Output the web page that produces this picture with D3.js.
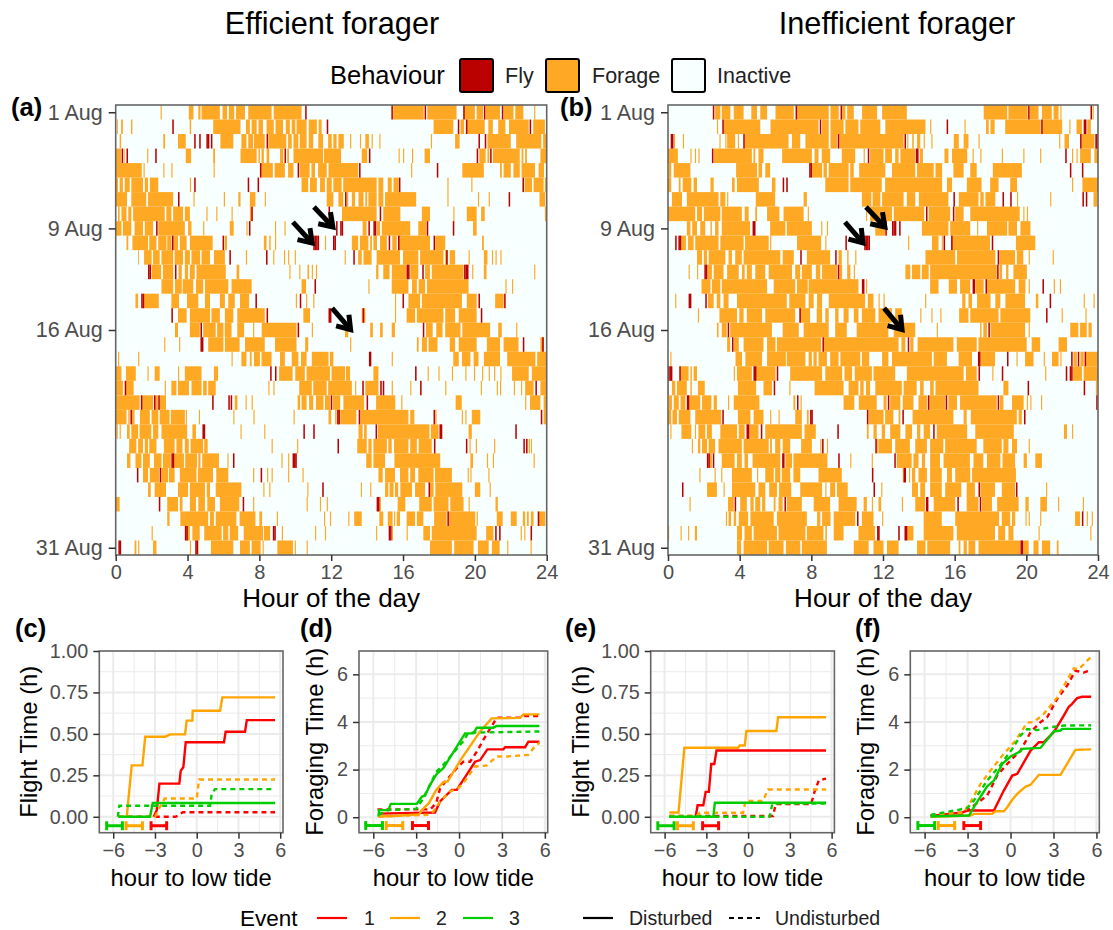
<!DOCTYPE html>
<html>
<head>
<meta charset="utf-8">
<script src="https://cdn.jsdelivr.net/npm/d3@7"></script>
<style>
body{margin:0;background:#fff;}
text{font-family:"Liberation Sans",Arial,sans-serif;}
</style>
</head>
<body>
<svg id="chart" width="1113" height="930"></svg>
<script>
// one string per day, 1 to 31 Aug. "a-b" is a bout in hours, a lone number is one short fix
const efficientForage = [
"2.5 4.07-4.33 4.6-4.72 4.78-5.8 5.95-6.2 6.3-6.6 6.7-7.2 7.38-8.68 8.8-10.35 15.45-17.15 17.35-18.98 19.4-20 20.1-20.45 20.6-21.4 21.6-22.15 22.25-22.7 23.3",
".07-.12 .3-.4 .85-.93 4.12-4.2 5.43-6.95 7.25-7.47 7.57-7.85 7.95-8.2 8.4-8.8 8.9-9.32 9.47-9.7 9.8-10 10.07-10.63 10.75-11.2 11.3-11.47 17.7-18.8 19.2-19.4 19.55-20.55 20.75-21 21.3-21.7 21.9-23 23.25-23.9",
".22-.3 2.65-2.75 3.47-3.9 5.83-6.55 7-7.28 7.38-7.65 7.7-8.3 8.5-9.5 9.6-9.8 9.9-10.17 10.25-10.63 10.75-11 11.28-11.55 11.83-12.03 12.12-12.3 12.4-12.7 13.05 13.6 13.9-14.1 14.25 14.68 17.55 18.9-19.15 20.7-22 22.3-23.7 23.8-24",
"0-.3 .45-.5 1.75 3.9-4.2 5.43-5.53 6.95-7.85 7.95-8.03 8.12-8.25 8.4-8.55 9.15-9.33 9.55-9.65 9.9-11.55 11.6-12.55 13.7-14 15.75 16 16.5 17.2-17.5 20.25-20.6 20.7-20.8 21-22.5 22.6-22.7 22.8-22.9 23.65-24",
"0-1.45 1.55 2.65 3.1 5.45 8.1-8.75 8.85-9.42 9.6-9.9 10.25-10.8 10.9-11.1 11.27-11.75 11.85-13.5 16.45 19.3-20.5 21.4-21.5 21.6-22 22.15-22.5 22.6-23.35 23.55-23.85",
"0-.13 .22-.4 .5-.78 .87-1.52 1.62-1.8 1.9-2.37 4.13 10.35-10.72 10.82-11.2 11.38-11.65 11.75-12.03 12.12-12.58 12.67-14.53 14.63-14.9 15.15-15.37 15.47-15.75 18.47 19.8 22.77-23.18 23.27-23.83 23.9-24",
"0-.63 .87-1.7 1.8-3.2 4.33 6.02 6.83-6.95 7.47-7.78 8.3 11.75-12.12 12.4-12.67 12.87-12.95 13.15-13.33 13.52-13.8 13.9-14 14.07-14.53 14.63-14.9 15-16.73 18.47 20.17 20.77 23.6-23.92",
".13-.22 .32-.6 .7-.87 .97-2.73 2.82-3.1 3.2-3.75 3.85-4.13 5.05 5.6 6.45 7.47-7.57 12.6-14.53 14.9-15.85 17.05-17.5 18.8 19.55-20.1 20.35-20.55 23.9-24",
"0-.32 .4-.87 1.05-1.52 1.62-2.08 2.37-3.85 4.03-4.22 4.87 6.35-6.57 7.28 8.87 9.4 13.75-13.97 14.55-14.72 14.82-16.4 16.85-17.3 19.9-20.1",
".6-.7 .93-1.8 1.87-2.27 2.37-2.83 2.87-3.1 3.2-3.47 3.57-3.95 4.13-5.4 6.07-6.2 8.25-8.4 8.55-8.63 8.87 11.65 13.15-13.5 13.6-14.07 14.17-14.27 14.35-14.55 14.72-15.1 15.4-15.65 15.75-17.5 17.8-18.35 20.4-20.5",
"1.25-1.3 1.58-2 2.08-2.45 2.55-3.2 3.28-3.75 3.85-4.13 4.22-4.7 4.78-5.25 5.47-6.08 7.25 8.77 9.37 9.6 9.97 12.75 13.5-13.7 13.8-14.25 14.53-15.83 16-16.85 16.95-18.25 18.35-18.5 18.6-18.9 19.65 20.5-20.7 20.95 21.15 21.42",
"2-2.53 2.63-3.2 3.5-3.68 3.85-4.03 4.13-4.4 4.5-6.13 6.73-6.88 9.67 10.22 10.68-10.77 10.92 11.15 14.5-14.63 14.9-15.25 15.38-16.2 16.4-16.85 17.23-17.5 17.6-19.37 19.85 20.5-20.65 23.3",
"2.55-3.2 3.3-3.68 3.73-4.32 4.47-4.87 4.97-6.27 6.45-7.57 10.35-10.6 14.07 15.37-16.3 16.5-16.77 16.87-17.23 17.33-19.65 21.7 22.07",
"1.1-1.25 1.53-2.4 3.1-3.53 3.97-4.6 4.97-5.25 5.8-6.08 6.27-6.63 6.92-7.43 10.03 10.6 11 15.55 16.3-16.95 17.05-19.28 19.55-20.1 21.13-21.6",
"3.47-3.95 4.13-5.25 5.33-5.8 6.08-6.55 6.77-8.3 10.45-10.82 13.7-13.9 15.55 16.2-16.67 16.77-18.25 18.35-18.9 19.1-20.1",
"3.3-3.47 4.13-4.68 4.87-5.57 5.65-6 6.07-6.45 6.77-7.15 7.65 8.13-10.07 10.92 12.77-12.95 14.17-14.32 14.72-14.87 15.37-15.55 17.28-17.65 17.85-18.2 18.35-19.2 19.3-20.85 21.3-21.5 22.3",
"2.7 3.53 5.15-6 6.08-6.9 7.2-8.3 8.87-10.07 10.55-10.72 13.05 16.77-16.87 17.05-17.33 17.42-17.92 18.6-18.9 19.1-20.1 20.67-21.4 21.6-22.43 23.65-23.85",
".13 1.25 6.45 7-7.28 7.47-7.57 7.7-8.03 8.12-8.68 9.15-9.42 9.8-10.17 10.32-10.63 10.92-11.85 11.93-12.12 15.37 18.8-19.1 19.28-19.75 19.93-20.2 20.5-21.4 21.8-23.37 23.47-24",
"0-.32 .57-1.12 1.77 2.17-2.45 3.47 3.85-4.78 5.47-5.7 9.1-9.85 10-10.53 10.63-11.93 12.02-12.77 12.82-13.05 14.35-14.63 17.37 17.97 18.72 19.47 19.95 20.4 20.77 21.07 21.42 22.07-23 23.17-24",
"0-.4 .55-1 2.73 3.1-3.38 3.47-4.08 4.22-4.78 4.87-5.07 5.15-5.57 8.5 8.78 10.22-10.92 11-11.75 11.83-13.15 13.33 13.9-14.63 15.37 16.4 18.35 20.33 21.22 21.4 22.17 22.57 22.8-23.27 23.65-24",
"0-1.33 1.47-2.08 2.2-2.35 2.45-2.8 6.63-6.78 7.23 7.57 10.13-10.27 10.35-10.63 10.77-11 11.15-11.57 11.65-11.93 12.08-12.5 12.68-13.83 14.5-15.57 15.9 18.93-19.27 22.8 23.07-23.65 23.83-24",
"0-.6 .7-.78 .9-1.05 1.35-1.9 2-2.37 2.45-3 3.07-3.85 3.9 4.63 6.55 7.67 9.9 11.85-12 12.22-12.3 12.5-13.4 13.62-16.3 16.4-16.63 17.8 19.27 19.47 19.83-20.3 23.83-24",
".05 .22 .63-.78 .87-1.25 1.33-1.98 2.08-2.37 2.55-3.98 4.27-4.47 6.95 8.27 13.52-13.75 13.83-13.98 14.6-17.47 17.55-17.98 19.65-19.83",
".75-1.15 1.25-1.52 1.62-1.8 1.87-2.27 2.68-3.28 3.38-3.72 3.85-4.07 4.17-4.87 4.93-5.12 8.68 10.1 13.45-13.98 14.07-14.25 14.35-15.1 15.18-15.37 15.5-16.3 16.4-16.77 16.87-17.6 19.7 20.05 21.07 23 23.12",
".63-.82 1.1-1.43 1.52-1.9 2.13-2.55 2.63-3.07 3.22-3.8 3.87-4.53 4.6-4.72 4.82-5.75 6.22 9.23 9.6 13.95-14.25 14.35-15 15.52-18.07 19.75-19.9 20.67 21 23.27",
"1.52-1.8 1.9-2.42 2.55-2.92 2.97-3.28 3.57-4.5 4.58-5.42 5.6-6.27 7.65 8.43 8.68 9.6 10.4 14.63-14.87 15-15.55 15.83-16.3 16.4-16.67 16.85-17.7 17.78-18.72 19.6 19.75 20.75",
"1.8-1.95 2.17-2.8 3.47-4.03 4.13-4.97 5.07-5.25 5.57-7 8.22 8.55 10.67 13.65 14.17 15-15.18 15.25-15.47 15.55-15.73 15.85-16.5 16.67-17.23 17.5-17.7 17.8-19.3 20-20.3 20.82",
"0-.22 2.87-3.47 3.57-3.72 4.13-4.47 4.6-4.97 5.1-5.53 5.8-6.88 7.65 10.63 11.37 11.75 14.63-14.77 15.7-16.13 16.9-17.6 17.7-18.53 18.63-19.37 19.65 21.15-21.28",
"2.87-3 3.6-5.15 5.25-5.47 5.57-6.72 6.9-7.78 8-8.15 8.97 11.6 11.93 12.95 13.28-13.7 14.68-14.9 15.15-15.42 15.5 15.65-15.83 16.2-16.67 16.77-17.13 17.73-18.43 18.53-20.02 20.1 21.22-21.55 22-22.33 22.67-22.8 22.9-23 23.12-23.27 23.55-23.92",
"2 3.95-4.13 4.27-4.68 4.93-5.9 5.98-6.27 6.35-6.82 7.13-8.2 8.25-8.6 9.25 11.1 11.65 14.5 15.38 16.2 17.13-17.5 17.6-20.1 20.63-21.03 22.55 22.75",
"1.05-1.15 1.25 2.08-2.27 4.13 4.55 5.3-6.55 6.92-7.47 7.57-8.07 8.18 9-9.87 9.97 10.63 17.5-18.72 18.85-19.93 20.17-20.77 20.95-21.38 21.8 23.1"
];
const efficientFly = [
"10.55 15.35 17.2 19.35 20.5 21.5",
"3.15 11.75 19.05 19.5 23.05",
"4.37 4.65 5.05 5.13 5.3 8.4 20.2 20.55",
".33 .6 2.2 9.4 14.1 20.1 20.85",
"8.03 10.13 13.55 17.88",
"4.37 7.35 7.9 15.77 22.65",
"3.47 12.77 21.88",
"7.55 11.85 14.7",
"2.25 7.42 12.27 12.5 12.58 14.07 14.35 14.43 17.32 18.77",
"3.13 5.95 11 11.08 11.16 11.24 12.1 12.18 15.2 15.72 17.7",
"6.33 8.37 13.23 18.4",
"1.8 1.88 3.3 16.2 16.28 17.07 19.4 19.48 19.56",
"11.07",
"1.42 1.5 7.78 10.25 15.97 20.2 21.63",
"3.1 8.4 11.85 11.93 13.75 20.33",
"4.72 10.13 17.1",
"4.72 4.8 22.67 23.75",
"14.1 14.15",
"8.6 8.87 16.67",
".5 13.73 14.73 14.87 16.95 23.37",
"1.4 2.13 2.37 5.37 6.27 6.4 11.97 13.97",
".82 12.33 12.4 13.53 17.7 23.67",
"4.83 4.9 10.45 11 14.47 18.03 18.1 22.25",
"12.35 17.72 19.5 22.7 22.85",
"3.1 3.17 6.53 9.85 9.93 10",
"1.18 2.45 8.07",
"11.5 17.42",
"2.4 7.07 14.53 14.6",
"18.47 23.5",
"3.85 3.93 8.75 8.83 15.2 15.28 21.13 21.35 23.1",
".15 .22 4.43 4.5"
];
const inefficientForage = [
"2.63-2.92 3-3.48 3.67-4.22 4.65-4.97 5.15-5.53 6-7.02 7.2-8.97 9.07-9.53 9.72-9.9 10-10.37 10.83-11.67 11.95-13.33 17.62-18.93 19-20.07 20.2-20.68 20.87-21.42 21.52-21.8 21.9 23.7",
"2.73 3.1-5.15 5.72-8.4 8.6-8.97 9.07-9.8 9.9-10.63 10.73-11.85 12.13-14.37 14.63 16.55 17.75-17.9 18-18.23 18.82-20.8 20.9-22 22.4 22.8-23.1 23.4-23.6",
".33 .83 2.87 3.2 3.3-3.75 3.9 4.28-6.73 6.92-7.38 7.67-8.97 9.07-9.43 9.55-13.15 13.35 13.63-13.72 13.9-14.08 14.27 14.7 15.95-16.23 16.5-16.77 17.33 21.83 22.13-22.38 23.08-23.8",
"0-.55 1.25 1.5 1.7 2.55-4.68 4.77-4.87 5.05-5.33 6.37-8.03 8.18-8.4 8.58-9.05 9.7-10.45 10.92 11.28-12.03 12.12-12.5 12.68-12.87 12.97-13.8 14.05-14.23 15.43-15.65 15.85-16.7 17 17.43 18.63 19.83 20.77 22.55 22.8 23-23.6 23.8-24",
".05-.18 .32-1.25 3.8-4.97 5.05-5.25 5.43-5.7 8-8.6 8.68-8.87 8.97-10.08 10.17-10.37 10.67-12.13 12.5-13.8 13.9-14.83 14.93-15.3 15.93-16.5 16.87-17.23 18.13-19.75",
"0-.18 .6-.7 .82-1.3 1.43-1.62 2.37-2.55 3.57-3.72 3.85-5.07 5.8-6 8.78-10.08 10.17-11.93 12.12-15.3 15.57-15.85 16.68-17.5 17.98-18.45 19.1-19.48 22.55 23.13-24",
".22-.78 1.05-2.82 2.92-3.2 3.3 4.9-5.98 7.57-7.75 10.82-11.35 11.42-11.85 11.95-13.15 13.33-13.8 14-15.65 16.23-17.33 17.43-17.62 17.72-18.27 19.48 21.33 23.75-23.95",
"0-1.52 1.62-1.9 2-2.92 3-4.12 4.28-4.5 4.87-4.97 5.53-6.22 6.45-7.57 7.8 11.05 11.28-12.5 12.6-14.3 14.55-15.75 16.03-16.5 16.87-19.63 19.83 20.03",
"1.05-1.25 1.35-1.62 1.8-2.08 2.37-2.45 2.63-2.82 3-4.58 5.7-6.55 6.63-8.03 8.55 8.87 11.57-12.12 14.17-15.65 15.75-16.87 17.25 17.8-18.93 19-19.48 19.67-20.23",
".72-1 1.12-1.43 1.52-2.82 2.92-4.22 4.3-5.62 5.7 7.2-8.55 8.78 13.4 14.73-15.1 15.28 15.85-17.97 19.42-20.5",
"1.62-1.9 2-2.18 2.27-3.2 3.38-3.57 3.75-4.12 4.22-6.27 6.4-7.02 7.75-9.05 9.52-9.7 10-10.08 10.45 14.37-16.03 16.13-18.27 18.5-19.37 19.47-19.83 20.13 21.47",
"1.15 1.62 2.12-2.45 2.55-3.1 3.3-3.95 4.13-4.28 4.4-4.68 4.87-5.43 5.62-6.92 7.1-7.38 7.47-8.03 8.25-8.5 8.6-9.43 9.55-9.72 10-10.18 10.37 13.25-13.52 13.62-14.08 14.17-14.55 14.63-18.35 18.5-18.65 18.87-19 19.28-20.03",
"1.87-2.37 2.45-2.92 3-5.53 5.9-7.1 7.2-7.8 7.85-10.63 11.05 14.63-15.1 15.67-16.13 16.3-16.87 17.15-17.62 17.8-19.38 19.57-19.95 20.13 21.53 21.87",
".4 2.23-2.55 2.72-2.92 3.1-3.38 3.85-6.63 6.77-7.67 7.85-8.13 8.32-8.6 8.97-11 11.15-11.47 11.75 12.03 14.35 16.42-16.6 16.77-16.97 17.25-18 18.27-18.55 18.83-19.93 20.53-20.67 23.2 23.75",
"1.67 2.87-3.85 3.98-4.22 4.4-5.25 5.43-7.1 7.38-7.93 8.3-8.6 8.78-8.97 9.33-9.52 9.8-10.08 10.37-10.63 10.82-11.57 11.75-12.5 12.68-13.05 14.08 14.7 15.2 16.25-16.77 16.87-18.45 18.55-20.22 21.97 23.3",
"2.73-2.82 3-3.28 3.47-5.8 6.4-7.3 7.57-8.97 9.33-9.98 10.53-12.3 12.6-13.8 15 17.42-17.5 17.6-17.8 18-19.93 20.13 22.45-22.9 23-23.37 23.47-23.65",
"3.3-3.47 3.67-3.95 4.22-5.33 5.53-6 6.08-8.55 8.7-12.87 13.03-13.25 13.52-13.7 13.93-15.93 16.12-17.23 17.33-20.02 20.3-20.77 21.8-22.27",
".13 3.77-4.13 4.32-5.25 5.53-6.58 6.63-7.67 7.85-8.03 8.12-8.3 8.4-8.87 9.05-9.52 9.62-10.73 10.82-11.23 11.95-12.3 12.5-14.73 14.83-15.57 16.22-16.97 17.42-18.25 19.45 19.93-20.4 20.97 21.43-21.8 21.9 22.63-22.82 23.02-23.2 23.32-24",
".7-1.15 1.25-1.33 1.43-1.62 3.67 3.85-4.68 4.87-6 6.82-8.6 8.78-9.72 9.85-10.27 10.42-11.38 11.47-12.68 13.33-16.5 16.63-17.23 18.1 21.05 22.6-23.1 23.2-24",
"0-.05 .22-.4 .5-1.05 1.25-1.33 1.67-2.05 3.9-4.92 5.33-5.8 6.77 8.18-9.8 10.08-10.63 10.73-10.92 11.05-11.28 11.57-13.05 13.15-13.88 14.07-14.27 14.63-14.83 14.93-17.33 18.72-19 23.88",
".05-.22 .32-.6 .7-.97 1.15-1.8 1.9-2.42 2.55-2.73 3.35 3.67-5.1 7-7.1 7.4 9.8-10.4 10.65-11.65 12.03-12.2 12.4-12.97 13.1-13.7 13.98-14.45 14.58-15.48 15.65-16.13 16.3-18.35 18.53-18.72 19.2-19.85 20.03 20.22 20.82",
"0-.18 .25-.5 .6-1.25 1.52-2.97 3.9-4.6 4.78-5.33 5.7 6.17 7.1-7.47 7.75-7.85 11.2-12.03 12.12-12.58 12.87-12.97 13.65-15.93 16.5-16.67 16.9-19.47 19.57-19.75",
".13 .75-1.3 1.5 1.7-2.08 2.17-2.45 2.92-3.85 3.95-4.28 4.53-5.05 5.43-7.47 7.62-8.25 11.1-11.2 11.47-11.65 11.93-12.12 12.4-12.97 13.25-13.62 13.9-14.08 14.27-14.63 15-16.7 17.15-19.3 22.1-22.27 22.55",
"1.33 1.67-1.8 1.9-2.18 2.27-2.63 2.82-4.12 4.22-5.62 5.7-5.8 5.98-6.27 6.4-6.82 7.43-8.03 8.5 8.87 11.67 11.75-12.5 12.68-13.5 13.8-14.45 14.63-15.37 15.47-17.23 17.6-18.63 18.72-19 19.2-19.48 20.13",
"2.3-2.45 3-3.72 3.85-4.12 4.27-4.47 4.72-6.27 6.55-6.92 7-8.9 10.17 11.37 12.77-13.6 13.7-13.98 14.17-14.35 14.63-15.18 15.38-16.85 17.05-17.6 17.8-18.55 18.67-19.37 19.85-20.03 20.5-20.87",
"1.75 2.6 2.97 3.57-4.68 4.97 5.43-5.9 5.98-6.27 6.35-6.82 7-7.38 8.4-9.7 13.1 13.45 13.62-13.8 13.98-14.45 14.63-15.28 15.57-15.85 16.03-16.87 16.97-19.42",
"2.18-2.73 3.1 3.57-4.87 5.05-5.43 5.65-6.08 6.2-6.88 7.38-8.6 8.78 9.05-9.33 9.43-10.03 11.9 13.62-13.95 14.08-14.35 14.63-15.28 15.47-16.37 16.67-17.13 17.43-18.25 18.63-19.37 21.1",
"1.2 3.35-3.67 4.03-4.4 4.6-4.78 4.87-5.15 5.25-5.43 5.9-6 6.17-6.4 6.63-7.47 8.13-9.05 9.52-10.53 10.92-11.1 11.38 11.75-11.9 13.05 13.8-14.35 14.83-16.03 16.67-17.33 17.52-18.08 18.37-19.57 19.95-20.13 20.78-21.15 21.77 23.15",
"3.23 3.38-3.52 3.67-3.8 3.95-4.47 4.6-5.9 6.08-7.75 8.32-8.5 8.6-9.07 9.25-10.45 10.82-11.47 11.95 14.27-15.28 16.03-18.48 18.63-19.1 19.2-19.38 19.95 20.13 20.77 22.72-23 23.37 23.65",
"0 .7 1.12 1.5-1.62 3.85-4.13 4.27-4.68 4.78-6.08 6.17-7.67 7.75-8.68 8.78-8.87 9.25-9.8 10.63-11.55 13.33-13.7 14.27-15.93 16.12-18.25 18.43-18.82 19-19.28 20.68 23.57",
"3.85-4.08 4.22-5.53 5.62-6.45 6.58-7.38 7.47-8.87 10.37-11.2 11.47-12.03 12.22-12.87 13.9-14.37 14.47-15.75 16.22-16.32 16.5-16.68 16.77-17.15 17.33-19.65 19.77-20.13 20.4-20.68 20.87-21.33 21.7-21.8"
];
const inefficientFly = [
"2.5 7.12 9.63 20.1 23.58",
"3.03 8.47 15.55 20.83 23.2 23.27",
".15 .22 4.2 9.47 13.2 23 23.85 23.9",
"2.45 11.15 13.83 13.9 22.17",
"7.88 7.95 22.43 23.1",
"6.4 6.6",
"15.93 18.67 19.1 23.13 23.32",
"14.4 15.9",
"4.72 4.8 12.13 12.5 12.58 12.66 12.9",
".4 .58 .65 9.9 10.95 11.03 11.11 11.19 15.38 15.8 18.07",
"7.38 9.33 18.4",
"2.03 2.1 9.47 18.37",
"10.82 10.88 17 17.05 17.72 20.9",
"1.15 1.22 2.08 21.3",
"7.33 21.1",
"3.33 17.88",
"3.57 8.62 13.38",
"17.3 17.35 18.92 22.5 22.87 23.25",
"0 .08 .16 .63 4.77 4.85 6.07 17.33 18.63 22.2 22.42 22.5",
"5.9 20.07 23.2",
"1.05 1.1 7.2 12.27 14.5 15.5 18.4 23.9",
"3.03 7.93 8 11.1 13.08 19.87",
"4.38 4.45 5.18 9.45 14.8",
"8.6 11.57",
"2.17 2.25 2.5 6.37 6.42 9.5 12.63",
"11.38 13.15 13.2",
".78 11.47 17.33 19.42",
"3.72 6.5 14.4 14.45 16.15 17.4",
"10.55 23.1",
"11.67 11.73 12.85 13.2 13.27",
"19.67 19.73"
];
const dayTicks = [1, 9, 16, 31];
const dayLabels = ["1 Aug", "9 Aug", "16 Aug", "31 Aug"];
const hourTicks = [0, 4, 8, 12, 16, 20, 24];
// [hour from, day from, hour to, day to]
const arrowsA = [[9.87, 8.57, 11.05, 10.16], [11.04, 7.53, 12.21, 9.05], [12.05, 14.5, 13.19, 16.13]];
const arrowsB = [[9.88, 8.57, 10.99, 10.16], [11.05, 7.53, 12.22, 9.05], [12.06, 14.5, 13.17, 16.13]];

const behaviours = ["Fly", "Forage", "Inactive"];
const behaviourColours = ["#BB0000", "#FFA824", "#F7FFFF"];
const eventColours = ["#FF0000", "#FFA500", "#00CD00"];

// cumulative curves: [hour to low tide, hours], order red, orange, green
const flightEffSolid = [
  [[-3.1,0],[-2.87,.04],[-2.68,.2],[-1.25,.2],[-1.15,.277],[-.96,.3],[-.79,.45],[1.96,.45],[2.08,.513],[3.47,.513],[3.6,.583],[5.63,.583]],
  [[-5.03,0],[-4.67,.31],[-3.9,.31],[-3.7,.483],[-2.27,.483],[-1.9,.497],[-.84,.497],[-.72,.58],[-.31,.58],[-.29,.64],[1.68,.64],[1.84,.72],[5.63,.72]],
  [[-5.63,0],[-3.35,0],[-3.16,.083],[5.63,.083]]
];
const flightEffDash = [
  [[-5.6,0],[-1.5,0],[-1,.027],[5.63,.027]],
  [[-5.6,0],[-3,0],[-2.7,.05],[-2.3,.11],[0,.11],[.17,.225],[5.63,.225]],
  [[-5.67,0],[-5.56,.067],[.96,.067],[1.08,.14],[1.32,.167],[5.63,.167]]
];
const forageEffSolid = [
  [[-5.64,.15],[-1.68,.2],[-1.33,.66],[-.98,.87],[-.51,1.15],[-.16,1.15],[1.12,2.33],[1.47,2.4],[1.98,2.85],[3.1,2.85],[3.22,2.94],[4.62,2.94],[4.85,3.17],[5.62,3.17]],
  [[-5.64,.03],[-4.6,.05],[-2.8,.12],[-2.6,.3],[-2.1,.6],[-1.6,1.15],[-1.1,1.47],[-.8,1.5],[.1,2.4],[1.47,3.6],[2.28,4.15],[4.27,4.17],[4.5,4.32],[5.62,4.32]],
  [[-5.64,.03],[-5.6,.3],[-4.94,.3],[-4.78,.56],[-2.96,.56],[-2.6,.87],[-2.38,.9],[-2.03,1.36],[-1.56,1.82],[-1.1,2.06],[.42,3.52],[1,3.52],[1.24,3.76],[2.4,3.76],[2.63,3.83],[5.62,3.83]]
];
const forageEffDash = [
  [[-5.71,.33],[-2,.33],[-1.6,.6],[-1.33,1.2],[-.86,1.57],[-.16,2.06],[.3,2.33],[.77,2.33],[1.24,2.75],[1.7,3.25],[2.05,3.6],[2.4,3.94],[2.63,4.18],[4.27,4.18],[4.62,4.25],[5.62,4.25]],
  [[-5.64,.03],[-2.2,.1],[-1.8,.24],[-1.33,.66],[-.63,1.08],[-.05,1.22],[.3,1.43],[1.12,2.13],[1.93,2.17],[2.63,2.55],[3.33,2.55],[4.85,2.62],[5.2,2.9],[5.62,3.13]],
  [[-5.64,.1],[-5,.3],[-3,.35],[-2.6,.7],[-2,1.4],[-1.6,1.9],[-1.1,2.2],[.3,3.2],[.65,3.55],[5.62,3.6]]
];
const flightIneffSolid = [
  [[-3.77,0],[-3.63,.07],[-3.22,.07],[-3.05,.15],[-2.82,.15],[-2.65,.318],[-2.43,.318],[-2.27,.4],[5.6,.4]],
  [[-5.66,.026],[-5,.026],[-4.58,.416],[-.72,.416],[-.6,.43],[-.24,.43],[-.12,.517],[2.03,.517],[2.15,.6],[5.6,.6]],
  [[-5.66,0],[-2.5,0],[-2.39,.085],[5.6,.085]]
];
const flightIneffDash = [
  [[-5.66,.005],[1.8,.005],[1.98,.077],[4.53,.077],[4.77,.15],[5.08,.22],[5.6,.23]],
  [[-5.66,.005],[-3.7,.005],[-3.46,.024],[-.36,.024],[-.19,.095],[1.07,.095],[1.43,.165],[5.6,.165]],
  [[-5.66,0],[1.55,0],[1.74,.08],[5.6,.08]]
];
const forageIneffSolid = [
  [[-5.58,.05],[-3.37,.2],[-3.02,.28],[-1.16,.28],[-.47,1.12],[.12,1.75],[.47,1.82],[1.4,2.8],[1.98,3.15],[2.33,3.15],[3.02,3.57],[3.72,4.27],[4.07,4.64],[4.3,4.76],[4.65,5],[5,5.06],[5.63,5.06]],
  [[-5.58,.02],[-2.8,.07],[-2.56,.14],[-1.28,.14],[-1.05,.25],[-.47,.25],[-.23,.42],[.12,.73],[.47,.98],[1.05,1.29],[1.4,1.36],[1.98,1.78],[3.49,1.78],[4.53,2.83],[5.63,2.85]],
  [[-5.58,.03],[-5.12,.04],[-2.9,.07],[-2.56,.42],[-1.63,1.3],[-1.16,1.54],[-.58,2.24],[0,2.55],[.7,2.77],[.8,2.87],[2.09,2.91],[3.02,3.6],[3.49,3.64],[3.6,3.71],[5.63,3.71]]
];
const forageIneffDash = [
  [[-5.58,.05],[-3.37,.14],[-2.56,.49],[-1.63,.91],[-.93,1.75],[-.23,2.24],[.7,2.8],[1.4,3.57],[2.09,3.99],[2.56,4.2],[3.26,4.97],[3.95,5.52],[4.53,6.15],[5.12,6.08],[5.63,6.18]],
  [[-5.58,.08],[-3.26,.2],[-2.8,.63],[-2.09,1.4],[-1.4,1.96],[-.47,2.66],[.35,3.22],[1.16,3.97],[1.63,4],[2.33,4.34],[3.26,5.03],[4.42,6.25],[4.77,6.22],[5.63,6.74]],
  [[-5.58,.1],[-3.72,.3],[-3.02,.39],[-2.56,.7],[-1.63,1.54],[-.7,2.2],[.12,2.87],[.7,3.43],[1.16,3.7],[1.86,3.66],[2.79,3.78],[3.72,3.85],[5.63,3.86]]
];
// tide window of each event [from, to], order red, orange, green
const windowsC = [[-3.28,-2.16],[-5.08,-3.9],[-6.47,-5.34]];
const windowsD = [[-3.26,-2.14],[-5.1,-3.94],[-6.53,-5.36]];
const windowsE = [[-3.27,-2.12],[-5.08,-3.94],[-6.49,-5.32]];
const windowsF = [[-3.26,-2.09],[-5.05,-3.9],[-6.47,-5.3]];
const tideTicks = [-6, -3, 0, 3, 6];
const flightTicks = [0, .25, .5, .75, 1];
const forageTicks = [0, 2, 4, 6];

const svg = d3.select("#chart");
const FIX = 0.085;

function parseRow(s){
  return s.split(" ").filter(t=>t).map(t=>{
    if(t.includes("-")){
      const p=t.split("-").map(Number);
      return p;
    }
    return [+t, +t+0.065];
  });
}

function styleAxis(ax, size){
  ax.select(".domain").remove();
  ax.selectAll(".tick line").attr("stroke","#333").attr("stroke-width",1.5);
  ax.selectAll(".tick text").attr("fill","#4D4D4D").attr("font-size",size);
}

function heatPanel(x0,x1,forage,fly,arrows,tag,tagX){
  const top=105, bottom=555;
  const x=d3.scaleLinear().domain([0,24]).range([x0,x1]);
  const y=d3.scaleLinear().domain([.5,31.5]).range([top,bottom]);
  const g=svg.append("g");
  g.append("rect").attr("x",x0).attr("y",top).attr("width",x1-x0).attr("height",bottom-top).attr("fill",behaviourColours[2]);

  forage.forEach((row,i)=>{
    g.append("g").selectAll("rect").data(parseRow(row)).join("rect")
      .attr("x",d=>x(d[0])).attr("width",d=>x(d[1])-x(d[0]))
      .attr("y",y(i+.5)).attr("height",y(i+1.5)-y(i+.5))
      .attr("fill",behaviourColours[1]);
  });
  fly.forEach((row,i)=>{
    g.append("g").selectAll("rect").data(row.split(" ").map(Number)).join("rect")
      .attr("x",d=>x(d)).attr("width",x(FIX)-x(0))
      .attr("y",y(i+.5)).attr("height",y(i+1.5)-y(i+.5))
      .attr("fill",behaviourColours[0]);
  });

  g.append("rect").attr("x",x0).attr("y",top).attr("width",x1-x0).attr("height",bottom-top)
    .attr("fill","none").attr("stroke","#666").attr("stroke-width",1.6);

  const ay=g.append("g").attr("transform",`translate(${x0},0)`)
    .call(d3.axisLeft(y).tickValues(dayTicks).tickFormat((d,i)=>dayLabels[i]).tickSize(7).tickPadding(6));
  styleAxis(ay,21.5);
  const ax=g.append("g").attr("transform",`translate(0,${bottom})`)
    .call(d3.axisBottom(x).tickValues(hourTicks).tickSize(6).tickPadding(4));
  styleAxis(ax,20);

  arrows.forEach(a=>{
    const xa=x(a[0]),ya=y(a[1]),xb=x(a[2]),yb=y(a[3]);
    const ang=Math.atan2(yb-ya,xb-xa);
    const head=15;
    // pull the stem in so the mitre of the head lands on the tip
    const tx=xb-3*Math.cos(ang),ty=yb-3*Math.sin(ang);
    g.append("line").attr("x1",xa).attr("y1",ya).attr("x2",tx).attr("y2",ty)
      .attr("stroke","#000").attr("stroke-width",5);
    g.append("path")
      .attr("d",`M${tx-head*Math.cos(ang-.6)},${ty-head*Math.sin(ang-.6)}L${tx},${ty}L${tx-head*Math.cos(ang+.6)},${ty-head*Math.sin(ang+.6)}`)
      .attr("fill","none").attr("stroke","#000").attr("stroke-width",5).attr("stroke-linejoin","miter");
  });

  g.append("text").attr("x",(x0+x1)/2).attr("y",607).attr("text-anchor","middle")
    .attr("font-size",26).text("Hour of the day");
  g.append("text").attr("x",tagX).attr("y",116).attr("font-size",25.5).attr("font-weight","bold").text(tag);
}

function linePanel(x0,x1,yMin,yMax,yTicks,yFmt,ylab,solid,dash,windows,winY,tag,tagX){
  const top=651, bottom=832.7;
  const x=d3.scaleLinear().domain([-7,6.2]).range([x0,x1]);
  const y=d3.scaleLinear().domain([yMin,yMax]).range([bottom,top]);
  const g=svg.append("g");
  const clip=`clip${tag[1]}`;
  g.append("clipPath").attr("id",clip).append("rect").attr("x",x0).attr("y",top).attr("width",x1-x0).attr("height",bottom-top);

  const minorX=[-4.5,-1.5,1.5,4.5];
  g.selectAll(".mx").data(minorX).join("line").attr("x1",x).attr("x2",x).attr("y1",top).attr("y2",bottom)
    .attr("stroke","#EBEBEB").attr("stroke-width",1);
  const minorY=yTicks.slice(1).map((d,i)=>(d+yTicks[i])/2);
  g.selectAll(".my").data(minorY).join("line").attr("y1",y).attr("y2",y).attr("x1",x0).attr("x2",x1)
    .attr("stroke","#EBEBEB").attr("stroke-width",1);
  g.selectAll(".gx").data(tideTicks).join("line").attr("x1",x).attr("x2",x).attr("y1",top).attr("y2",bottom)
    .attr("stroke","#EBEBEB").attr("stroke-width",2);
  g.selectAll(".gy").data(yTicks).join("line").attr("y1",y).attr("y2",y).attr("x1",x0).attr("x2",x1)
    .attr("stroke","#EBEBEB").attr("stroke-width",2);

  const line=d3.line().x(d=>x(d[0])).y(d=>y(d[1]));
  const lines=g.append("g").attr("clip-path",`url(#${clip})`).attr("fill","none").attr("stroke-width",2.4);
  [0,1,2].forEach(i=>{
    lines.append("path").attr("d",line(dash[i])).attr("stroke",eventColours[i]).attr("stroke-dasharray","5,4");
    lines.append("path").attr("d",line(solid[i])).attr("stroke",eventColours[i]);
  });

  windows.forEach((w,i)=>{
    const c=eventColours[i], yy=y(winY);
    const bar=g.append("g").attr("stroke",c).attr("stroke-width",3);
    bar.append("line").attr("x1",x(w[0])).attr("x2",x(w[1])).attr("y1",yy).attr("y2",yy);
    bar.append("line").attr("x1",x(w[0])).attr("x2",x(w[0])).attr("y1",yy-4.5).attr("y2",yy+4.5);
    bar.append("line").attr("x1",x(w[1])).attr("x2",x(w[1])).attr("y1",yy-4.5).attr("y2",yy+4.5);
  });

  g.append("rect").attr("x",x0).attr("y",top).attr("width",x1-x0).attr("height",bottom-top)
    .attr("fill","none").attr("stroke","#666").attr("stroke-width",1.6);

  const ay=g.append("g").attr("transform",`translate(${x0},0)`)
    .call(d3.axisLeft(y).tickValues(yTicks).tickFormat(yFmt).tickSize(6).tickPadding(5));
  styleAxis(ay,19.8);
  const ax=g.append("g").attr("transform",`translate(0,${bottom})`)
    .call(d3.axisBottom(x).tickValues(tideTicks).tickFormat(d=>d<0?"\u2212"+(-d):d).tickSize(6).tickPadding(4));
  styleAxis(ax,19.8);

  g.append("text").attr("x",(x0+x1)/2).attr("y",886).attr("text-anchor","middle")
    .attr("font-size",23.8).text("hour to low tide");
  const off = yFmt===fmt2 ? 62 : 36;
  g.append("text").attr("transform",`translate(${x0-off},741.8) rotate(-90)`)
    .attr("text-anchor","middle").attr("font-size",23.8).text(ylab);
  g.append("text").attr("x",tagX).attr("y",637).attr("font-size",25.5).attr("font-weight","bold").text(tag);
}

const fmt2=d3.format(".2f");
const fmt0=d3.format("d");

svg.append("text").attr("x",332).attr("y",34).attr("text-anchor","middle").attr("font-size",30.7).text("Efficient forager");
svg.append("text").attr("x",897).attr("y",34).attr("text-anchor","middle").attr("font-size",30.7).text("Inefficient forager");

// behaviour legend
svg.append("text").attr("x",330).attr("y",84).attr("font-size",25.5).text("Behaviour");
const swX=[459,545,671];
const swLabelX=[505,592,717];
const sw=d3.scaleOrdinal().domain(behaviours).range(swX);
const swLab=d3.scaleOrdinal().domain(behaviours).range(swLabelX);
svg.selectAll(".sw").data(behaviours).join("rect")
  .attr("x",d=>sw(d)+1).attr("y",59).attr("width",33).attr("height",33).attr("rx",2)
  .attr("fill",(d,i)=>behaviourColours[i]).attr("stroke","#000").attr("stroke-width",2);
svg.selectAll(".swt").data(behaviours).join("text")
  .attr("x",d=>swLab(d)).attr("y",83).attr("font-size",21.5).attr("fill","#222").text(d=>d);

heatPanel(115.7,546.7,efficientForage,efficientFly,arrowsA,"(a)",11);
heatPanel(668,1098,inefficientForage,inefficientFly,arrowsB,"(b)",560);

linePanel(99.3,283,-.096,1,flightTicks,fmt2,"Flight Time (h)",flightEffSolid,flightEffDash,windowsC,-.054,"(c)",15);
linePanel(359,547.7,-.65,6.98,forageTicks,fmt0,"Foraging Time (h)",forageEffSolid,forageEffDash,windowsD,-.35,"(d)",300);
linePanel(650.7,834.4,-.096,1,flightTicks,fmt2,"Flight Time (h)",flightIneffSolid,flightIneffDash,windowsE,-.054,"(e)",565);
linePanel(910.3,1099.3,-.65,6.98,forageTicks,fmt0,"Foraging Time (h)",forageIneffSolid,forageIneffDash,windowsF,-.35,"(f)",855);

// bottom legend
const legendY=918;
svg.append("text").attr("x",240).attr("y",legendY+8).attr("font-size",22.5).text("Event");
const eventNames=["1","2","3"];
const evX=[317,390,463];
const evLabX=[364,436,509];
eventNames.forEach((n,i)=>{
  svg.append("line").attr("x1",evX[i]).attr("x2",evX[i]+30).attr("y1",legendY).attr("y2",legendY)
    .attr("stroke",eventColours[i]).attr("stroke-width",2.2);
  svg.append("text").attr("x",evLabX[i]).attr("y",legendY+7).attr("font-size",19.5).attr("fill","#222").text(n);
});
svg.append("line").attr("x1",583).attr("x2",613).attr("y1",legendY).attr("y2",legendY).attr("stroke","#000").attr("stroke-width",2.2);
svg.append("text").attr("x",629).attr("y",legendY+7).attr("font-size",19.5).attr("fill","#222").text("Disturbed");
svg.append("line").attr("x1",729).attr("x2",760).attr("y1",legendY).attr("y2",legendY).attr("stroke","#000").attr("stroke-width",2.2).attr("stroke-dasharray","5,4");
svg.append("text").attr("x",775).attr("y",legendY+7).attr("font-size",19.5).attr("fill","#222").text("Undisturbed");
</script>
</body>
</html>
